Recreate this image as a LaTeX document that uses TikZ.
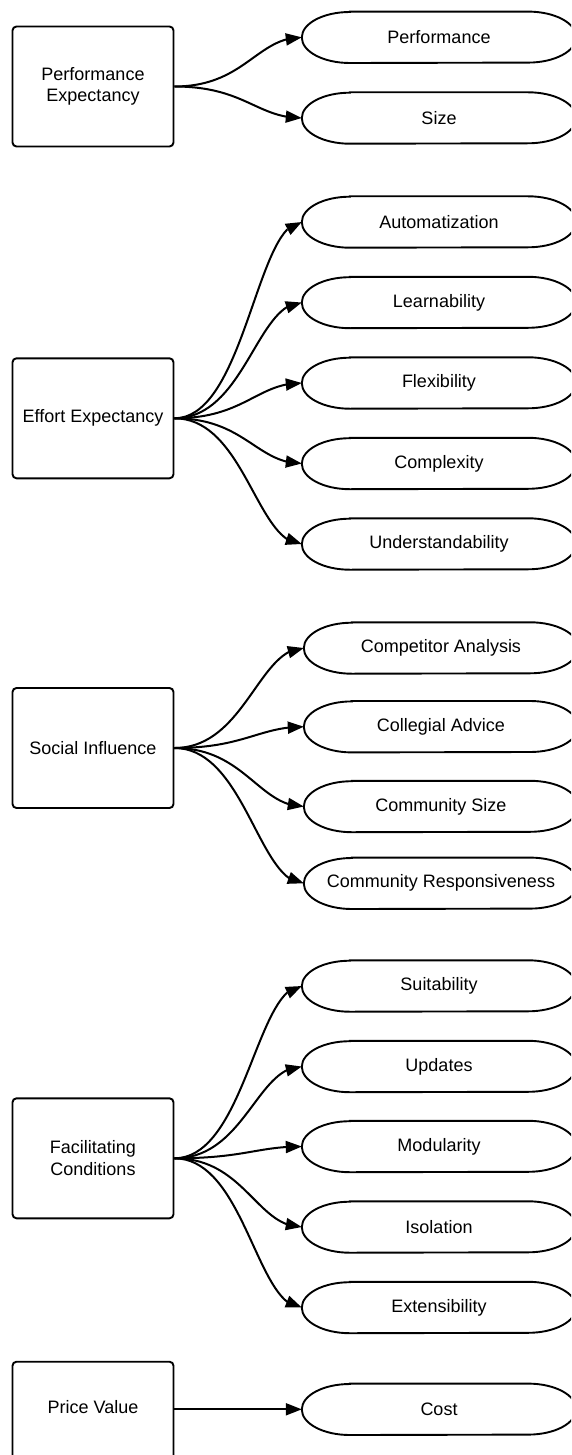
\documentclass[tikz,border=0pt]{standalone}
\usepackage{fontspec}
\setmainfont{Liberation Sans}
\usetikzlibrary{arrows.meta,bending}
\tikzset{
  catbox/.style={draw, line width=1.9pt, rounded corners=4pt, minimum width=161pt,
    minimum height=120pt, inner sep=0pt, align=center, font=\fontsize{18}{21.5}\selectfont},
  pill/.style={minimum width=274pt, minimum height=51pt, inner sep=0pt,
    font=\fontsize{18}{21.5}\selectfont},
  outl/.style={line width=1.9pt},
  conn/.style={line width=2pt, -{Triangle[length=16pt,width=12pt]}},
}
\begin{document}
\begin{tikzpicture}[x=1pt,y=-1pt]
\useasboundingbox (0,0) rectangle (571,1455);
\clip (0,0) rectangle (571,1455);
% category boxes
\node[catbox] (pe) at (93,86.5) {Performance\\Expectancy};
\node[catbox] (ee) at (93,418.3) {Effort Expectancy};
\node[catbox] (si) at (93,748) {Social Influence};
\node[catbox] (fc) at (93,1158.3) {Facilitating\\Conditions};
\node[catbox] (pv) at (93,1421.7) {};
\node[font=\fontsize{18}{21.5}\selectfont] (pvt) at (93,1407) {Price Value};
% item nodes
\node[pill] (perf) at (439,37.3) {Performance};
\node[pill] (size) at (439,118) {Size};
\node[pill] (auto) at (439,222) {Automatization};
\node[pill] (learn) at (439,302.5) {Learnability};
\node[pill] (flex) at (439,383) {Flexibility};
\node[pill] (compl) at (439,463.5) {Complexity};
\node[pill] (under) at (439,544) {Understandability};
\node[pill] (comp) at (441,648) {Competitor Analysis};
\node[pill] (coll) at (441,726.7) {Collegial Advice};
\node[pill] (csize) at (441,806.5) {Community Size};
\node[pill] (cresp) at (441,883.3) {Community Responsiveness};
\node[pill] (suit) at (439,986) {Suitability};
\node[pill] (upd) at (439,1066.5) {Updates};
\node[pill] (mod) at (439,1146.5) {Modularity};
\node[pill] (iso) at (439,1227) {Isolation};
\node[pill] (ext) at (439,1307.5) {Extensibility};
\node[pill] (cost) at (439,1409.3) {Cost};
% outlines of item nodes
\foreach \n in {perf,size,auto,learn,flex,compl,under,comp,coll,csize,cresp,suit,upd,mod,iso,ext,cost}{
  \draw[outl] ([xshift=48pt]\n.north west) -- ([xshift=-48pt]\n.north east)
    arc[start angle=90, end angle=-90, x radius=48pt, y radius=25.5pt]
    -- ([xshift=48pt]\n.south west)
    arc[start angle=270, end angle=90, x radius=48pt, y radius=25.5pt] -- cycle;
}
% connectors
\foreach \a/\b in {pe/perf,pe/size,ee/auto,ee/learn,ee/flex,ee/compl,ee/under,
  si/comp,si/coll,si/csize,si/cresp,fc/suit,fc/upd,fc/mod,fc/iso,fc/ext}{
  \draw[conn] (\a.east) .. controls +(70,0) and +(-45,0) .. (\b.west);
}
\draw[conn] (pv.east |- cost.west) -- (cost.west);
\end{tikzpicture}
\end{document}
